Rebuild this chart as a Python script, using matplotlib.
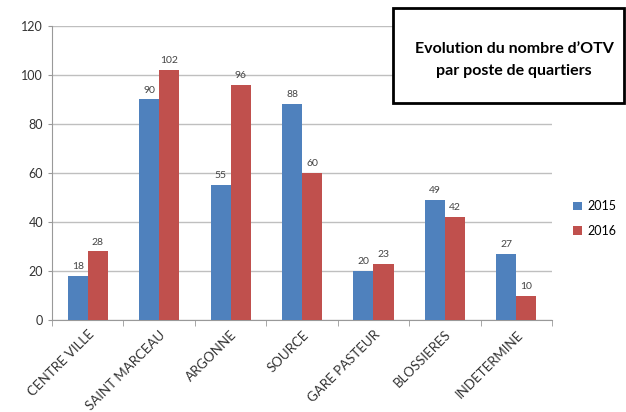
import matplotlib.pyplot as plt
import matplotlib.patches as patches
import numpy as np

quartiers = ['CENTRE VILLE', 'SAINT MARCEAU', 'ARGONNE', 'SOURCE',
             'GARE PASTEUR', 'BLOSSIERES', 'INDETERMINE']
otv_2015 = [18, 90, 55, 88, 20, 49, 27]
otv_2016 = [28, 102, 96, 60, 23, 42, 10]
annees = ['2015', '2016']
y_ticks = [0, 20, 40, 60, 80, 100, 120]

plt.rcParams['font.family'] = ['Lato', 'DejaVu Sans']

fig = plt.figure(figsize=(6.26, 4.12), dpi=100)
ax = fig.add_axes([0.083, 0.223, 0.799, 0.714])

x = np.arange(len(quartiers))
w = 0.28
bleu = '#4F81BD'
rouge = '#C0504D'
b1 = ax.bar(x - w / 2, otv_2015, w, color=bleu, label=annees[0], zorder=3)
b2 = ax.bar(x + w / 2, otv_2016, w, color=rouge, label=annees[1], zorder=3)

for bars in (b1, b2):
    for b in bars:
        ax.text(b.get_x() + b.get_width() / 2, b.get_height() + 2,
                str(int(b.get_height())), ha='center', va='bottom',
                fontsize=7.5, color='#444444')

ax.set_xlim(-0.5, len(quartiers) - 0.5)
ax.set_ylim(0, 120)
ax.set_yticks(y_ticks)
ax.tick_params(axis='y', labelsize=9, colors='#333333', length=3, color='#999999')
ax.set_xticks(x)
ax.set_xticklabels(quartiers, rotation=45, ha='right', rotation_mode='anchor',
                   fontsize=9.5, color='#333333')
ax.tick_params(axis='x', length=0, pad=6)
ax.set_xticks(np.arange(-0.5, len(quartiers)), minor=True)
ax.tick_params(axis='x', which='minor', length=4, color='#999999')
ax.grid(axis='y', color='#BFBFBF', linewidth=1, zorder=0)
for s in ('top', 'right'):
    ax.spines[s].set_visible(False)
ax.spines['left'].set_color('#999999')
ax.spines['bottom'].set_color('#999999')

ax.legend(loc='center left', bbox_to_anchor=(1.02, 0.345), frameon=False,
          fontsize=9, handlelength=0.7, handleheight=0.7, handletextpad=0.4,
          labelspacing=1.0)

# encadré du titre
box = patches.Rectangle((393 / 626, 1 - 103 / 412), 231 / 626, 95 / 412,
                        transform=fig.transFigure, fill=True, facecolor='white',
                        edgecolor='black', linewidth=2, zorder=5)
fig.patches.append(box)
fig.text(514 / 626, 1 - 60 / 412,
         "Evolution du nombre d\u2019OTV\npar poste de quartiers",
         ha='center', va='center', fontsize=11.5, fontweight='bold',
         linespacing=1.65, zorder=6)

fig.savefig('out.png', dpi=100)
